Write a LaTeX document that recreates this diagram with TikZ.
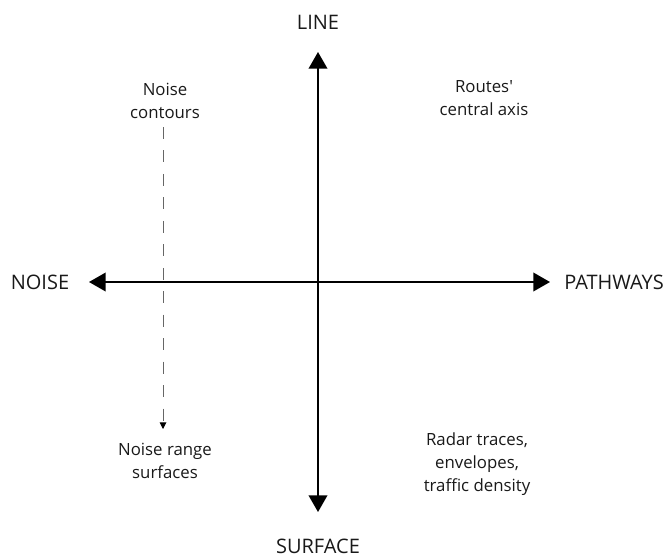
\documentclass[tikz,border=0pt]{standalone}
\usepackage{fontspec}
\setmainfont{Open Sans}
\usetikzlibrary{arrows.meta}
\begin{document}
\begin{tikzpicture}[x=0.75pt, y=-0.75pt,
    axis/.style={line width=1.2pt, {Triangle[width=14pt,length=12.5pt]}-{Triangle[width=14pt,length=12.5pt]}},
    guide/.style={line width=0.7pt, black!60, dash pattern=on 9pt off 8.6pt, -{Triangle[width=5pt,length=5pt,color=black]}},
    axlbl/.style={font=\fontsize{15}{18}\selectfont, text=black!90, inner sep=0pt},
    note/.style={font=\fontsize{12.6}{17.3}\selectfont, text=black!90, align=center, inner sep=0pt}]
  \useasboundingbox (0,0) rectangle (666,558);
  % axis ends
  \coordinate (top) at (318,52);
  \coordinate (bottom) at (318,512);
  \coordinate (left) at (89,282);
  \coordinate (right) at (550,282);
  \draw[axis] (bottom) -- (top);
  \draw[axis] (left) -- (right);
  % axis labels
  \node[axlbl] (line) at (318,22) {LINE};
  \node[axlbl] (surface) at (318,546) {SURFACE};
  \node[axlbl] (noise) at (40,282) {NOISE};
  \node[axlbl] (pathways) at (614,282) {PATHWAYS};
  % quadrant notes
  \node[note] (contours) at (165,101) {Noise\\contours};
  \node[note] (ranges) at (165,461) {Noise range\\surfaces};
  \node[note] (routes) at (484,98) {Routes\textquotesingle\\central axis};
  \node[note] (radar) at (477,464) {Radar traces,\\envelopes,\\traffic density};
  % from contours to range surfaces
  \coordinate (gtop) at (163,127);
  \coordinate (gend) at (163,429);
  \draw[guide] (gtop) -- (gend);
\end{tikzpicture}
\end{document}
